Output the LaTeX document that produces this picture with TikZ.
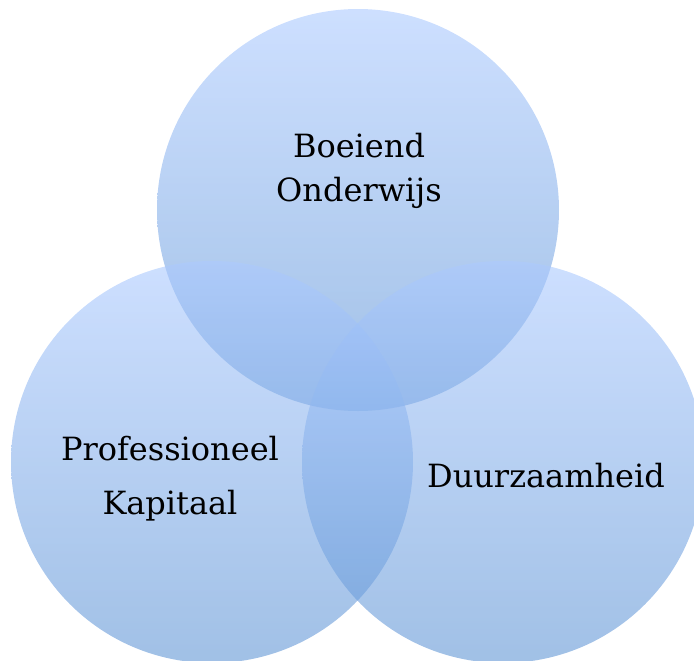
\documentclass[tikz,border=0pt]{standalone}
\usepackage{fontspec}
\setmainfont{DejaVu Serif}
\usetikzlibrary{positioning}
\definecolor{venntop}{RGB}{172,202,255}
\definecolor{vennbottom}{RGB}{97,150,213}

\begin{document}
\begin{tikzpicture}[x=0.75pt,y=-0.75pt,
		venn/.style={circle, minimum size=301.5pt, inner sep=0pt,
			top color=venntop, bottom color=vennbottom, fill opacity=0.6},
		label/.style={align=center, font=\fontsize{24}{28}\selectfont, anchor=base}]
		\clip (0,0) rectangle (694,661);
		% Draw the three circles
		\node[venn] (onderwijs) at (358,210) {};
		\node[venn] (kapitaal) at (212,462) {};
		\node[venn] (duurzaam) at (503,462) {};
		% Labels
		\node[label] (onderwijstxt) at (359,201) {Boeiend\\[5pt]Onderwijs};
		\node[label] (kapitaaltxt) at (170,514) {Professioneel\\[12pt]Kapitaal};
		\node[label] (duurzaamtxt) at (546,487) {Duurzaamheid};
	\end{tikzpicture}
\end{document}
